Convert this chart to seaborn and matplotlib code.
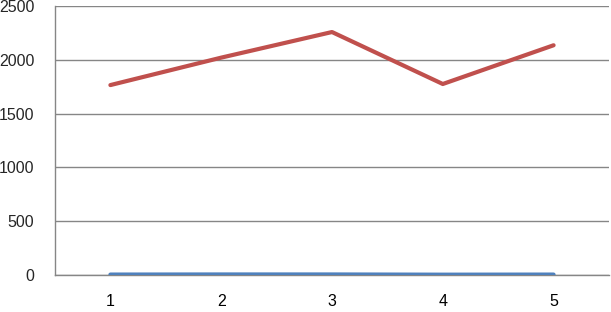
import matplotlib
matplotlib.use("Agg")
import matplotlib.pyplot as plt
import seaborn as sns
import pandas as pd
import numpy as np

categories = [1, 2, 3, 4, 5]
series_red = [1765, 2020, 2258, 1775, 2135]
series_blue = [4, 5, 5, 3, 4]
y_ticks = [0, 500, 1000, 1500, 2000, 2500]

sns.set_style("white")
plt.rcParams['font.family'] = ['Liberation Sans', 'DejaVu Sans']

df = pd.DataFrame({
    "x": categories * 2,
    "y": series_blue + series_red,
    "s": ["blue"] * len(categories) + ["red"] * len(categories),
})

fig = plt.figure(figsize=(6.11, 3.12), dpi=100)
ax = fig.add_axes([0.09, 0.1186, 0.9067, 0.8622])
sns.lineplot(data=df, x="x", y="y", hue="s",
             palette={"blue": "#4F81BD", "red": "#C0504D"},
             linewidth=3, legend=False, ax=ax, zorder=3)

grid_c = "#868686"
ax.set_xlim(0.5, 5.5)
ax.set_ylim(0, 2500)
ax.set_yticks(y_ticks)
ax.set_yticklabels([str(v) for v in y_ticks])
ax.set_xticks(categories)
ax.set_xticklabels([str(c) for c in categories])
ax.set_xticks(np.arange(0.5, 5.6, 1.0), minor=True)
ax.tick_params(axis="x", which="major", length=0, pad=14, labelsize=11.5, colors="black")
ax.tick_params(axis="x", which="minor", length=5, width=1, color=grid_c, direction="out")
ax.tick_params(axis="y", which="major", length=5, width=1, color=grid_c, pad=10, labelsize=11.5)
ax.yaxis.grid(True, color=grid_c, linewidth=1)
ax.set_axisbelow(True)
for side in ["top", "right"]:
    ax.spines[side].set_visible(False)
for side in ["left", "bottom"]:
    ax.spines[side].set_color(grid_c)
    ax.spines[side].set_linewidth(1)
ax.set_xlabel("")
ax.set_ylabel("")

fig.savefig("out.png", dpi=100)
